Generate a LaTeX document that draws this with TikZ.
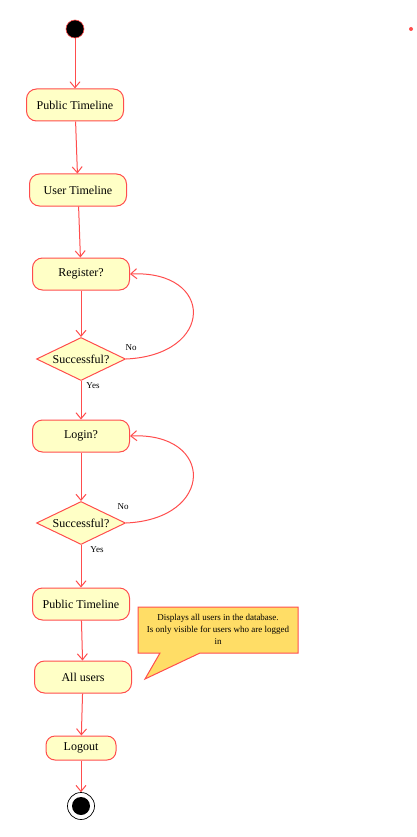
\documentclass[tikz,border=0pt]{standalone}
\usepackage{fontspec}
\setmainfont{Liberation Serif}
\usetikzlibrary{arrows.meta, shapes.geometric}
\definecolor{umlred}{HTML}{FF4D4D}
\definecolor{actfill}{HTML}{FFFFC6}
\definecolor{notefill}{HTML}{FFDD66}
\begin{document}
\begin{tikzpicture}[x=1pt, y=-1pt, >={Straight Barb[length=6pt, width=10pt]}, line width=1pt]
                \tikzset{act/.style={rectangle, rounded corners=10pt, draw=umlred, fill=actfill, minimum width=97pt, minimum height=32pt, inner sep=2pt, font=\fontsize{12}{14}\selectfont},
                         choice/.style={diamond, aspect=2.3, draw=umlred, fill=actfill, minimum width=89pt, minimum height=43pt, inner sep=0pt, font=\fontsize{12}{14}\selectfont},
                         flow/.style={->, color=umlred},
                         lbl/.style={font=\fontsize{9}{10}\selectfont, inner sep=0pt}};
                \useasboundingbox (0, 0) rectangle (416, 837);
                \node[circle, fill=black, draw=umlred, line width=0.6pt, minimum size=18pt, inner sep=0pt] (startpt) at (75, 29) {};
                \node[circle, fill=umlred, minimum size=4pt, inner sep=0pt] (dotpt) at (411, 29) {};
                \node[act] (pubA) at (75, 105) {Public Timeline};
                \node[act] (usr) at (78, 190) {User Timeline};
                \node[act] (reg) at (81, 274) {Register?};
                \node[choice] (succA) at (81, 359) {Successful?};
                \node[act] (login) at (81, 436) {Login?};
                \node[choice] (succB) at (81, 523) {Successful?};
                \node[act] (pubB) at (81, 604) {Public Timeline};
                \node[act] (allusr) at (83, 677) {All users};
                \node[act, minimum width=70pt, minimum height=24pt, rounded corners=9pt] (logout) at (81, 748) {Logout};
                \node[circle, draw=black, line width=0.7pt, fill=white, minimum size=27pt, inner sep=0pt] (endpt) at (81, 806) {};
                \node[circle, fill=black, minimum size=18pt, inner sep=0pt] at (endpt) {};
                \draw[flow] (startpt) -- (pubA);
                \draw[flow] (pubA) -- (usr);
                \draw[flow] (usr) -- (reg);
                \draw[flow] (reg) -- (succA);
                \draw[flow] (succA) -- (login);
                \draw[flow] (succA.east) .. controls (215, 355) and (215, 270) .. (reg.east);
                \node[lbl] (noA) at (131, 348) {No};
                \node[lbl] (yesA) at (93, 386) {Yes};
                \draw[flow] (login) -- (succB);
                \draw[flow] (succB) -- (pubB);
                \draw[flow] (succB.east) .. controls (215, 519) and (215, 432) .. (login.east);
                \node[lbl] (noB) at (123, 507) {No};
                \node[lbl] (yesB) at (97, 550) {Yes};
                \draw[flow] (pubB) -- (allusr);
                \draw[flow] (allusr) -- (logout);
                \draw[flow] (logout) -- (endpt);
                % note attached to all users
                \draw[umlred, fill=notefill] (138, 607) -- (298, 607) -- (298, 653) -- (200, 653) -- (145, 679) -- (160, 653) -- (138, 653) -- cycle;
                \node[lbl, align=center, font=\fontsize{9}{12}\selectfont] (note) at (218, 629) {Displays all users in the database.\\Is only visible for users who are logged\\in};
            \end{tikzpicture}
\end{document}
